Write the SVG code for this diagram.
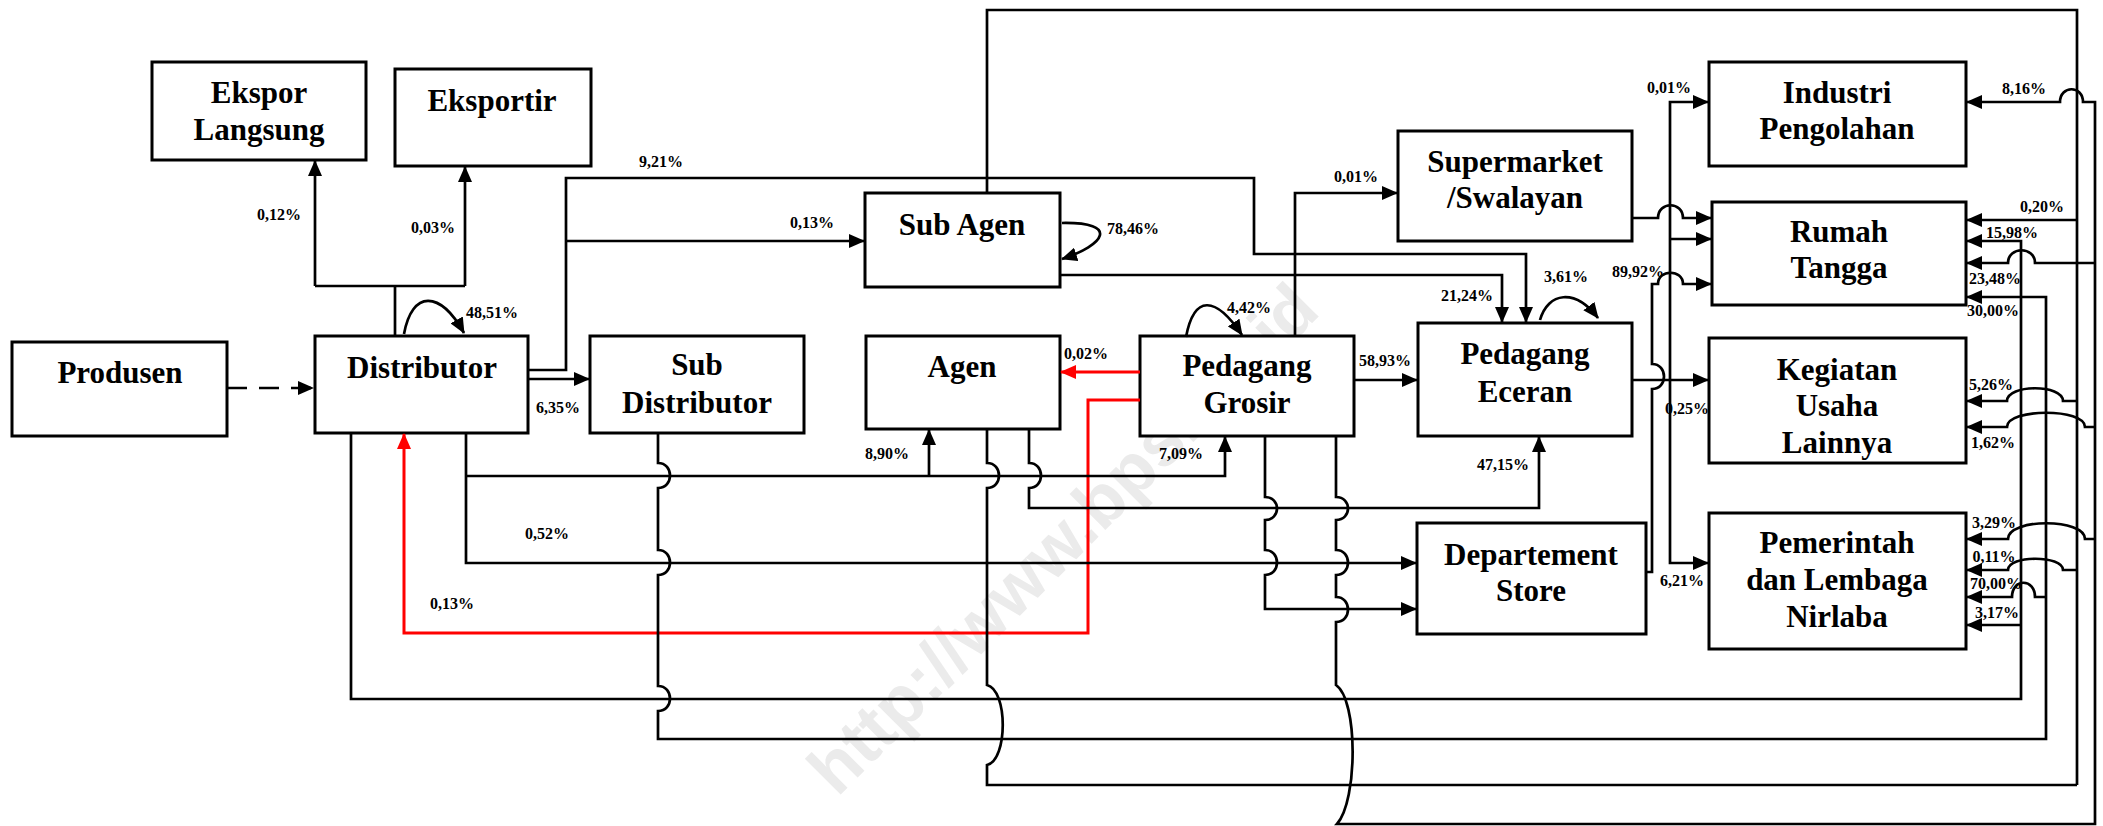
<svg xmlns="http://www.w3.org/2000/svg" width="2103" height="826" viewBox="0 0 2103 826">
<style>
.box{fill:#fff;stroke:#000;stroke-width:3}
.nt{font-family:"Liberation Serif","Times New Roman",serif;font-weight:bold;font-size:31px;text-anchor:middle;fill:#000}
.lb{font-family:"Liberation Serif","Times New Roman",serif;font-weight:bold;font-size:16px;text-anchor:middle;fill:#000}
.c{fill:none;stroke:#000;stroke-width:2.7}
.r{fill:none;stroke:#f00;stroke-width:3}
.wm{font-family:"Liberation Sans",Arial,sans-serif;font-weight:bold;font-size:70px;text-anchor:middle;fill:#ebebeb}
</style>
<defs>
<marker id="ah" viewBox="0 0 16 14" refX="15" refY="7" markerWidth="16" markerHeight="14" markerUnits="userSpaceOnUse" orient="auto"><path d="M0,0 L16,7 L0,14 z" fill="#000"/></marker>
<marker id="ahr" viewBox="0 0 16 14" refX="15" refY="7" markerWidth="16" markerHeight="14" markerUnits="userSpaceOnUse" orient="auto"><path d="M0,0 L16,7 L0,14 z" fill="#f00"/></marker>
</defs>
<rect width="2103" height="826" fill="#fff"/>
<text class="wm" x="1062" y="563" transform="rotate(-45 1062 538)">http://www.bps.go.id</text>

<g id="produsen"><rect class="box" x="12" y="342" width="215" height="94"/><text class="nt" x="120" y="383">Produsen</text></g>
<g id="distributor"><rect class="box" x="315" y="336" width="213" height="97"/><text class="nt" x="422" y="378">Distributor</text></g>
<g id="ekspor-langsung"><rect class="box" x="152" y="62" width="214" height="98"/><text class="nt" x="259" y="103">Ekspor</text><text class="nt" x="259" y="140">Langsung</text></g>
<g id="eksportir"><rect class="box" x="395" y="69" width="196" height="97"/><text class="nt" x="492" y="111">Eksportir</text></g>
<g id="sub-distributor"><rect class="box" x="590" y="336" width="214" height="97"/><text class="nt" x="697" y="375">Sub</text><text class="nt" x="697" y="413">Distributor</text></g>
<g id="sub-agen"><rect class="box" x="865" y="193" width="195" height="94"/><text class="nt" x="962" y="235">Sub Agen</text></g>
<g id="agen"><rect class="box" x="866" y="336" width="194" height="93"/><text class="nt" x="962" y="377">Agen</text></g>
<g id="pedagang-grosir"><rect class="box" x="1140" y="336" width="214" height="100"/><text class="nt" x="1247" y="376">Pedagang</text><text class="nt" x="1247" y="413">Grosir</text></g>
<g id="supermarket"><rect class="box" x="1398" y="131" width="234" height="110"/><text class="nt" x="1515" y="172">Supermarket</text><text class="nt" x="1515" y="208">/Swalayan</text></g>
<g id="pedagang-eceran"><rect class="box" x="1418" y="323" width="214" height="113"/><text class="nt" x="1525" y="364">Pedagang</text><text class="nt" x="1525" y="402">Eceran</text></g>
<g id="departement-store"><rect class="box" x="1417" y="523" width="229" height="111"/><text class="nt" x="1531" y="565">Departement</text><text class="nt" x="1531" y="601">Store</text></g>
<g id="industri"><rect class="box" x="1709" y="62" width="257" height="104"/><text class="nt" x="1837" y="103">Industri</text><text class="nt" x="1837" y="139">Pengolahan</text></g>
<g id="rumah-tangga"><rect class="box" x="1712" y="202" width="254" height="103"/><text class="nt" x="1839" y="242">Rumah</text><text class="nt" x="1839" y="278">Tangga</text></g>
<g id="kegiatan"><rect class="box" x="1709" y="338" width="257" height="125"/><text class="nt" x="1837" y="380">Kegiatan</text><text class="nt" x="1837" y="416">Usaha</text><text class="nt" x="1837" y="453">Lainnya</text></g>
<g id="pemerintah"><rect class="box" x="1709" y="513" width="257" height="136"/><text class="nt" x="1837" y="553">Pemerintah</text><text class="nt" x="1837" y="590">dan Lembaga</text><text class="nt" x="1837" y="627">Nirlaba</text></g>

<g id="labels">
<text class="lb" x="279" y="220">0,12%</text>
<text class="lb" x="433" y="233">0,03%</text>
<text class="lb" x="492" y="318">48,51%</text>
<text class="lb" x="661" y="167">9,21%</text>
<text class="lb" x="812" y="228">0,13%</text>
<text class="lb" x="558" y="413">6,35%</text>
<text class="lb" x="1133" y="234">78,46%</text>
<text class="lb" x="1356" y="182">0,01%</text>
<text class="lb" x="1249" y="313">4,42%</text>
<text class="lb" x="1086" y="359">0,02%</text>
<text class="lb" x="1385" y="366">58,93%</text>
<text class="lb" x="1467" y="301">21,24%</text>
<text class="lb" x="1566" y="282">3,61%</text>
<text class="lb" x="887" y="459">8,90%</text>
<text class="lb" x="1181" y="459">7,09%</text>
<text class="lb" x="1503" y="470">47,15%</text>
<text class="lb" x="547" y="539">0,52%</text>
<text class="lb" x="452" y="609">0,13%</text>
<text class="lb" x="1669" y="93">0,01%</text>
<text class="lb" x="1638" y="277">89,92%</text>
<text class="lb" x="1687" y="414">0,25%</text>
<text class="lb" x="1682" y="586">6,21%</text>
<text class="lb" x="2024" y="94">8,16%</text>
<text class="lb" x="2042" y="212">0,20%</text>
<text class="lb" x="2012" y="238">15,98%</text>
<text class="lb" x="1995" y="284">23,48%</text>
<text class="lb" x="1993" y="316">30,00%</text>
<text class="lb" x="1991" y="390">5,26%</text>
<text class="lb" x="1993" y="448">1,62%</text>
<text class="lb" x="1994" y="528">3,29%</text>
<text class="lb" x="1994" y="562">0,11%</text>
<text class="lb" x="1996" y="589">70,00%</text>
<text class="lb" x="1997" y="618">3,17%</text>
</g>

<g id="connectors">
<path class="c" d="M227,388 L313,388" stroke-dasharray="20,12" marker-end="url(#ah)"/>
<path class="c" d="M395,336 L395,286 M315,286 L465,286"/>
<path class="c" d="M315,286 L315,161" marker-end="url(#ah)"/>
<path class="c" d="M465,286 L465,167" marker-end="url(#ah)"/>
<path class="c" d="M404,334 C412,290 440,290 464,333" marker-end="url(#ah)"/>
<path class="c" d="M528,370 L566,370 L566,178 L1254,178 L1254,254 L1526,254 L1526,322" marker-end="url(#ah)"/>
<path class="c" d="M566,241 L864,241" marker-end="url(#ah)"/>
<path class="c" d="M528,379 L589,379" marker-end="url(#ah)"/>
<path class="c" d="M1062,223 C1120,222 1105,245 1062,259" marker-end="url(#ah)"/>
<path class="c" d="M987,193 L987,10 L2077,10 L2077,785"/>
<path class="c" d="M1060,275 L1502,275 L1502,322" marker-end="url(#ah)"/>
<path class="c" d="M1295,336 L1295,193 L1397,193" marker-end="url(#ah)"/>
<path class="c" d="M1186,337 C1194,295 1215,295 1242,335" marker-end="url(#ah)"/>
<path class="c" d="M1354,380 L1417,380" marker-end="url(#ah)"/>
<path class="r" d="M1140,372 L1061,372" marker-end="url(#ahr)"/>
<path class="r" d="M1140,400 L1088,400 L1088,633 L404,633 L404,434" marker-end="url(#ahr)"/>
<path class="c" d="M466,433 L466,563 L1416,563" marker-end="url(#ah)"/>
<path class="c" d="M466,476 L1225,476 L1225,437" marker-end="url(#ah)"/>
<path class="c" d="M929,476 L929,430" marker-end="url(#ah)"/>
<path class="c" d="M658,433 L658,463 C674,463 674,488 658,488 L658,550 C674,550 674,575 658,575 L658,686 C674,686 674,711 658,711 L658,739 L2046,739 L2046,297 L1967,297" marker-end="url(#ah)"/>
<path class="c" d="M2046,597 L2035,597 C2035,578 2012,578 2012,597 L1967,597" marker-end="url(#ah)"/>
<path class="c" d="M351,433 L351,699 L2021,699 L2021,241 L1967,241" marker-end="url(#ah)"/>
<path class="c" d="M2021,625 L1967,625" marker-end="url(#ah)"/>
<path class="c" d="M987,429 L987,463 C1003,463 1003,488 987,488 L987,685 C1008,690 1008,760 987,765 L987,785 L2077,785"/>
<path class="c" d="M2077,220 L1967,220" marker-end="url(#ah)"/>
<path class="c" d="M2077,401 L2063,401 C2063,384 2007,384 2007,401 L1967,401" marker-end="url(#ah)"/>
<path class="c" d="M2077,570 L2063,570 C2063,555 2008,555 2008,570 L1967,570" marker-end="url(#ah)"/>
<path class="c" d="M1029,429 L1029,463 C1045,463 1045,488 1029,488 L1029,508 L1539,508 L1539,437" marker-end="url(#ah)"/>
<path class="c" d="M1265,436 L1265,497 C1281,497 1281,520 1265,520 L1265,550 C1281,550 1281,575 1265,575 L1265,609 L1416,609" marker-end="url(#ah)"/>
<path class="c" d="M1336,436 L1336,497 C1352,497 1352,520 1336,520 L1336,550 C1352,550 1352,575 1336,575 L1336,597 C1352,597 1352,622 1336,622 L1336,685 C1358,700 1358,800 1337,824 L2095,824 L2095,102 L2083,102 C2083,85 2060,85 2060,102 L1967,102" marker-end="url(#ah)"/>
<path class="c" d="M2095,263 L2035,263 C2035,246 2008,246 2008,263 L1967,263" marker-end="url(#ah)"/>
<path class="c" d="M2095,427 L2085,427 C2085,408 2007,408 2007,427 L1967,427" marker-end="url(#ah)"/>
<path class="c" d="M2095,539 L2085,539 C2085,518 2008,518 2008,539 L1967,539" marker-end="url(#ah)"/>
<path class="c" d="M1540,320 C1548,292 1575,288 1598,318" marker-end="url(#ah)"/>
<path class="c" d="M1632,380 L1708,380" marker-end="url(#ah)"/>
<path class="c" d="M1670,380 L1670,102 L1708,102" marker-end="url(#ah)"/>
<path class="c" d="M1670,380 L1670,563 L1708,563" marker-end="url(#ah)"/>
<path class="c" d="M1670,239 L1711,239" marker-end="url(#ah)"/>
<path class="c" d="M1632,218 L1658,218 C1658,201 1683,201 1683,218 L1711,218" marker-end="url(#ah)"/>
<path class="c" d="M1646,572 L1652,572 L1652,389 C1668,389 1668,364 1652,364 L1652,284 L1658,284 C1658,269 1683,269 1683,284 L1711,284" marker-end="url(#ah)"/>
</g>
</svg>
